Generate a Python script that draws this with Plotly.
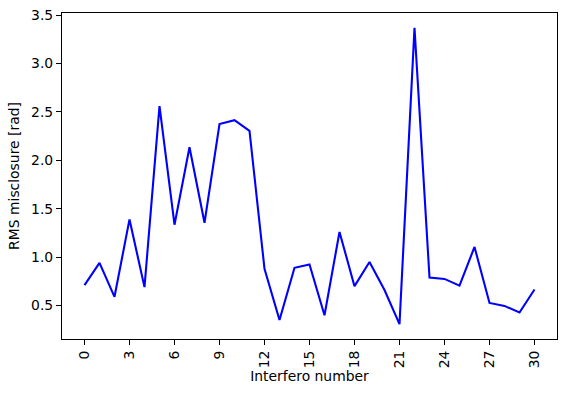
import plotly.graph_objects as go

interfero = list(range(31))
rms = [0.71, 0.94, 0.59, 1.39, 0.69, 2.56, 1.335, 2.135, 1.355, 2.375, 2.415, 2.305,
       0.88, 0.35, 0.89, 0.925, 0.40, 1.26, 0.70, 0.95, 0.66, 0.307, 3.37, 0.79,
       0.775, 0.705, 1.105, 0.527, 0.496, 0.428, 0.665]
xticks = list(range(0, 31, 3))
yticks = [0.5, 1.0, 1.5, 2.0, 2.5, 3.0, 3.5]

FS = 13.9
fig = go.Figure()
fig.add_trace(go.Scatter(x=interfero, y=rms, mode="lines",
                         line=dict(color="#0000ff", width=2.1)))

axis_common = dict(showline=True, linecolor="black", linewidth=1.1, mirror=True,
                   ticks="outside", ticklen=5, tickwidth=1.1, tickcolor="black",
                   showgrid=False, zeroline=False, automargin=False,
                   tickfont=dict(family="DejaVu Sans", size=FS, color="black"))

fig.update_layout(
    width=567, height=396,
    margin=dict(l=62, r=10, t=13, b=57),
    paper_bgcolor="white", plot_bgcolor="white",
    showlegend=False,
    font=dict(family="DejaVu Sans", size=FS, color="black"),
    xaxis=dict(range=[-1.5, 31.5], tickvals=xticks, ticktext=[str(t) for t in xticks],
               tickangle=-90,
               title=dict(text="Interfero number", standoff=0,
                          font=dict(family="DejaVu Sans", size=FS)),
               **axis_common),
    yaxis=dict(range=[0.154, 3.523], tickvals=yticks,
               ticktext=[f"{t:.1f}" for t in yticks],
               title=dict(text="RMS misclosure [rad]", standoff=8,
                          font=dict(family="DejaVu Sans", size=FS)),
               **axis_common),
)

fig.write_html("out.html", config={"displayModeBar": False},
               post_script="document.body.style.margin='0';")
